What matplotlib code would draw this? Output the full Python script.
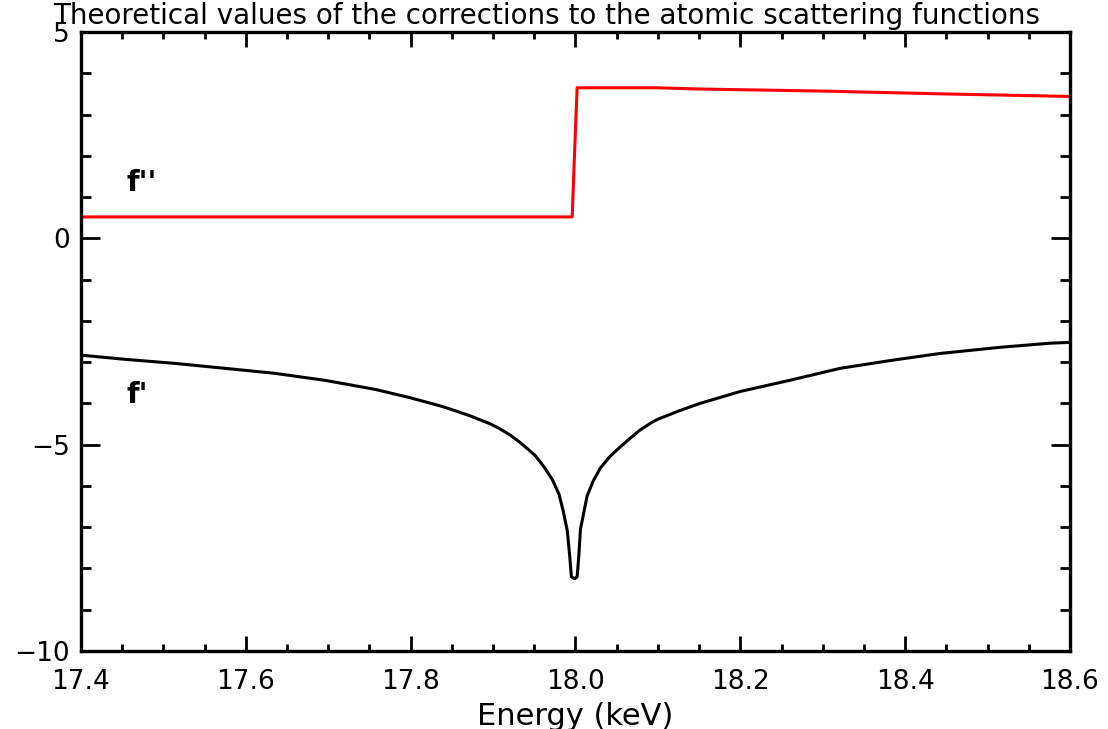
import matplotlib
matplotlib.use("Agg")
import matplotlib.pyplot as plt
from matplotlib.ticker import MultipleLocator

# f'' (red)
energy_fpp = [17.40, 17.60, 17.80, 17.996, 17.998, 18.000, 18.002, 18.10, 18.15, 18.30, 18.45, 18.60]
fpp = [0.52, 0.52, 0.52, 0.52, 1.60, 2.65, 3.65, 3.65, 3.62, 3.57, 3.50, 3.44]

# f' (black)
energy_fp = [17.400, 17.453, 17.514, 17.575, 17.635, 17.696, 17.757, 17.799, 17.836,
             17.850, 17.872, 17.896, 17.908, 17.921, 17.933, 17.951, 17.963, 17.972,
             17.980, 17.985, 17.990, 17.993, 17.995, 17.999, 18.002, 18.004, 18.006,
             18.009, 18.014, 18.021, 18.030, 18.042, 18.054, 18.066, 18.078, 18.091,
             18.099, 18.127, 18.151, 18.200, 18.260, 18.321, 18.382, 18.442, 18.515,
             18.576, 18.600]
fp = [-2.83, -2.93, -3.03, -3.15, -3.27, -3.44, -3.66, -3.86, -4.06,
      -4.15, -4.30, -4.49, -4.61, -4.77, -4.95, -5.26, -5.57, -5.85,
      -6.20, -6.60, -7.08, -7.70, -8.20, -8.25, -8.20, -7.70, -7.05,
      -6.75, -6.25, -5.90, -5.57, -5.28, -5.06, -4.85, -4.65, -4.48,
      -4.39, -4.17, -4.00, -3.71, -3.44, -3.15, -2.96, -2.79, -2.64,
      -2.54, -2.52]

x_ticks = [17.4, 17.6, 17.8, 18.0, 18.2, 18.4, 18.6]
x_labels = ["17.4", "17.6", "17.8", "18.0", "18.2", "18.4", "18.6"]
y_ticks = [-10, -5, 0, 5]
y_labels = ["\u221210", "\u22125", "0", "5"]

fig = plt.figure(figsize=(11.08, 7.29), dpi=100)
ax = fig.add_axes([0.0731, 0.107, 0.8926, 0.849])

ax.plot(energy_fpp, fpp, color="#ff0000", lw=2.2)
ax.plot(energy_fp, fp, color="black", lw=2.2)

ax.text(17.455, 1.35, "f''", fontsize=21, fontweight="bold", va="center")
ax.text(17.455, -3.8, "f'", fontsize=21, fontweight="bold", va="center")

ax.set_xlim(17.4, 18.6)
ax.set_ylim(-10, 5)
ax.set_xticks(x_ticks)
ax.set_xticklabels(x_labels)
ax.set_yticks(y_ticks)
ax.set_yticklabels(y_labels)
ax.xaxis.set_minor_locator(MultipleLocator(0.05))
ax.yaxis.set_minor_locator(MultipleLocator(1))

ax.tick_params(axis="both", which="both", direction="in", top=True, right=True,
               width=2, colors="black", labelsize=19)
ax.tick_params(axis="x", which="major", length=11, pad=13)
ax.tick_params(axis="x", which="minor", length=5)
ax.tick_params(axis="y", which="major", length=14, pad=8)
ax.tick_params(axis="y", which="minor", length=7)
for s in ax.spines.values():
    s.set_linewidth(2.4)

# title is a bit left of the axes centre in the original
fig.text(0.493, 1 - 24 / 729,
         "Theoretical values of the corrections to the atomic scattering functions",
         fontsize=20, ha="center", va="baseline")
# x label sits low and is cut by the bottom edge, as in the original
fig.text(0.519, 4 / 729, "Energy (keV)", fontsize=22, ha="center", va="baseline")

fig.savefig("out.png", dpi=100)
